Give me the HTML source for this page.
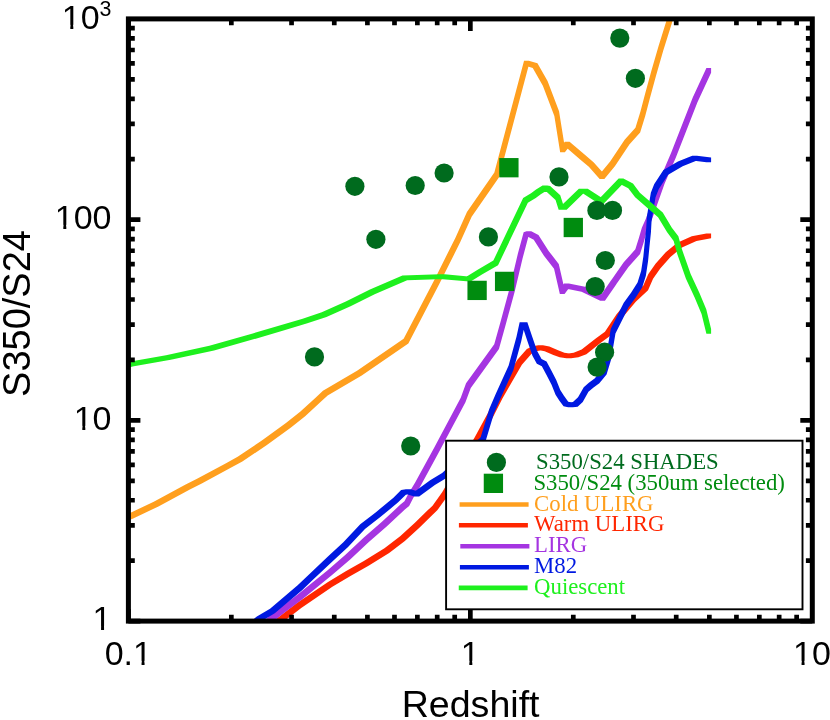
<!DOCTYPE html>
<html><head><meta charset="utf-8"><title>S350/S24 vs Redshift</title>
<style>
html,body{margin:0;padding:0;background:#fff;}
body{width:830px;height:720px;overflow:hidden;}
svg{display:block;will-change:transform;}
.t{font-family:"Liberation Sans",sans-serif;fill:#000;}
.l{font-family:"Liberation Serif",serif;font-size:22.75px;}
</style></head><body>
<svg width="830" height="720" viewBox="0 0 830 720">
<rect width="830" height="720" fill="#fff"/>
<defs><clipPath id="c"><rect x="128.4" y="18.9" width="683.9" height="602.2"/></clipPath></defs>
<g clip-path="url(#c)">
<path d="M126.05,514.85L128.45,513.75L133.15,513.75L133.15,518.45L130.75,519.55L126.05,519.55ZM128.45,513.75L153.75,501.75L158.45,501.75L158.45,506.45L133.15,518.45L128.45,518.45ZM153.75,501.75L185.15,484.85L189.85,484.85L189.85,489.55L158.45,506.45L153.75,506.45ZM185.15,484.85L197.05,478.75L201.75,478.75L201.75,483.45L189.85,489.55L185.15,489.55ZM197.05,478.75L226.05,463.15L230.75,463.15L230.75,467.85L201.75,483.45L197.05,483.45ZM226.05,463.15L237.65,456.85L242.35,456.85L242.35,461.55L230.75,467.85L226.05,467.85ZM237.65,456.85L261.85,440.55L266.55,440.55L266.55,445.25L242.35,461.55L237.65,461.55ZM261.85,440.55L285.95,423.05L290.65,423.05L290.65,427.75L266.55,445.25L261.85,445.25ZM285.95,423.05L300.45,411.55L305.15,411.55L305.15,416.25L290.65,427.75L285.95,427.75ZM300.45,411.55L315.55,397.65L320.25,397.65L320.25,402.35L305.15,416.25L300.45,416.25ZM315.55,397.65L322.95,390.85L327.65,390.85L327.65,395.55L320.25,402.35L315.55,402.35ZM322.95,390.85L357.05,370.75L361.75,370.75L361.75,375.45L327.65,395.55L322.95,395.55ZM357.05,370.75L403.65,338.85L408.35,338.85L408.35,343.55L361.75,375.45L357.05,375.45ZM403.65,338.85L434.95,278.65L439.65,278.65L439.65,283.35L408.35,343.55L403.65,343.55ZM434.95,278.65L455.45,237.65L460.15,237.65L460.15,242.35L439.65,283.35L434.95,283.35ZM455.45,237.65L466.95,211.95L471.65,211.95L471.65,216.65L460.15,242.35L455.45,242.35ZM466.95,211.95L494.35,172.45L499.05,172.45L499.05,177.15L471.65,216.65L466.95,216.65ZM494.35,172.45L524.05,60.65L528.75,60.65L528.75,65.35L499.05,177.15L494.35,177.15ZM524.05,60.65L528.75,60.65L537.45,63.25L537.45,67.95L532.75,67.95L524.05,65.35ZM532.75,63.25L537.45,63.25L547.55,80.95L547.55,85.65L542.85,85.65L532.75,67.95ZM542.85,80.95L547.55,80.95L559.05,111.25L559.05,115.95L554.35,115.95L542.85,85.65ZM554.35,111.25L559.05,111.25L564.85,147.45L564.85,152.15L560.15,152.15L554.35,115.95ZM560.15,147.45L564.85,141.65L569.55,141.65L569.55,146.35L564.85,152.15L560.15,152.15ZM564.85,141.65L569.55,141.65L584.85,154.85L584.85,159.55L580.15,159.55L564.85,146.35ZM580.15,154.85L584.85,154.85L593.55,162.15L593.55,166.85L588.85,166.85L580.15,159.55ZM588.85,162.15L593.55,162.15L604.35,174.35L604.35,179.05L599.65,179.05L588.85,166.85ZM599.65,174.35L610.15,161.55L614.85,161.55L614.85,166.25L604.35,179.05L599.65,179.05ZM610.15,161.55L624.65,139.85L629.35,139.85L629.35,144.55L614.85,166.25L610.15,166.25ZM624.65,139.85L635.45,127.75L640.15,127.75L640.15,132.45L629.35,144.55L624.65,144.55ZM635.45,127.75L640.45,111.45L645.15,111.45L645.15,116.15L640.15,132.45L635.45,132.45ZM640.45,111.45L645.05,94.05L649.75,94.05L649.75,98.75L645.15,116.15L640.45,116.15ZM645.05,94.05L651.25,71.25L655.95,71.25L655.95,75.95L649.75,98.75L645.05,98.75ZM651.25,71.25L658.65,45.65L663.35,45.65L663.35,50.35L655.95,75.95L651.25,75.95ZM658.65,45.65L667.15,18.45L671.85,18.45L671.85,23.15L663.35,50.35L658.65,50.35ZM667.15,18.45L669.15,11.65L673.85,11.65L673.85,16.35L671.85,23.15L667.15,23.15Z" fill="#ff9f1e"/>
<path d="M263.65,627.65L279.35,616.55L284.05,616.55L284.05,621.25L268.35,632.35L263.65,632.35ZM279.35,616.55L296.55,603.35L301.25,603.35L301.25,608.05L284.05,621.25L279.35,621.25ZM296.55,603.35L327.65,582.15L332.35,582.15L332.35,586.85L301.25,608.05L296.55,608.05ZM327.65,582.15L345.75,571.35L350.45,571.35L350.45,576.05L332.35,586.85L327.65,586.85ZM345.75,571.35L363.85,561.05L368.55,561.05L368.55,565.75L350.45,576.05L345.75,576.05ZM363.85,561.05L384.45,548.35L389.15,548.35L389.15,553.05L368.55,565.75L363.85,565.75ZM384.45,548.35L400.15,536.25L404.85,536.25L404.85,540.95L389.15,553.05L384.45,553.05ZM400.15,536.25L414.65,523.05L419.35,523.05L419.35,527.75L404.85,540.95L400.15,540.95ZM414.65,523.05L427.65,510.35L432.35,510.35L432.35,515.05L419.35,527.75L414.65,527.75ZM427.65,510.35L432.55,505.65L437.25,505.65L437.25,510.35L432.35,515.05L427.65,515.05ZM432.55,505.65L442.15,492.35L446.85,492.35L446.85,497.05L437.25,510.35L432.55,510.35ZM442.15,492.35L474.75,437.25L479.45,437.25L479.45,441.95L446.85,497.05L442.15,497.05ZM474.75,437.25L488.85,411.35L493.55,411.35L493.55,416.05L479.45,441.95L474.75,441.95ZM488.85,411.35L497.85,393.65L502.55,393.65L502.55,398.35L493.55,416.05L488.85,416.05ZM497.85,393.65L517.15,359.95L521.85,359.95L521.85,364.65L502.55,398.35L497.85,398.35ZM517.15,359.95L526.85,349.05L531.55,349.05L531.55,353.75L521.85,364.65L517.15,364.65ZM526.85,349.05L532.65,346.25L537.35,346.25L537.35,350.95L531.55,353.75L526.85,353.75ZM532.65,346.25L538.25,345.35L542.95,345.35L542.95,350.05L537.35,350.95L532.65,350.95ZM538.25,345.35L542.95,345.35L549.35,346.45L549.35,351.15L544.65,351.15L538.25,350.05ZM544.65,346.45L549.35,346.45L558.05,350.35L558.05,355.05L553.35,355.05L544.65,351.15ZM553.35,350.35L558.05,350.35L564.35,352.65L564.35,357.35L559.65,357.35L553.35,355.05ZM559.65,352.65L564.35,352.65L571.15,353.65L571.15,358.35L566.45,358.35L559.65,357.35ZM566.45,353.65L573.65,352.65L578.35,352.65L578.35,357.35L571.15,358.35L566.45,358.35ZM573.65,352.65L581.65,349.55L586.35,349.55L586.35,354.25L578.35,357.35L573.65,357.35ZM581.65,349.55L596.05,338.15L600.75,338.15L600.75,342.85L586.35,354.25L581.65,354.25ZM596.05,338.15L604.95,331.65L609.65,331.65L609.65,336.35L600.75,342.85L596.05,342.85ZM604.95,331.65L616.55,314.35L621.25,314.35L621.25,319.05L609.65,336.35L604.95,336.35ZM616.55,314.35L631.05,297.05L635.75,297.05L635.75,301.75L621.25,319.05L616.55,319.05ZM631.05,297.05L643.35,285.45L648.05,285.45L648.05,290.15L635.75,301.75L631.05,301.75ZM643.35,285.45L648.35,273.95L653.05,273.95L653.05,278.65L648.05,290.15L643.35,290.15ZM648.35,273.95L655.55,263.75L660.25,263.75L660.25,268.45L653.05,278.65L648.35,278.65ZM655.55,263.75L665.75,252.25L670.45,252.25L670.45,256.95L660.25,268.45L655.55,268.45ZM665.75,252.25L677.25,242.85L681.95,242.85L681.95,247.55L670.45,256.95L665.75,256.95ZM677.25,242.85L691.75,236.35L696.45,236.35L696.45,241.05L681.95,247.55L677.25,247.55ZM691.75,236.35L706.4,233.45L711.1,233.45L711.1,238.15L696.45,241.05L691.75,241.05Z" fill="#ff2600"/>
<path d="M255.65,627.65L268.75,616.55L273.45,616.55L273.45,621.25L260.35,632.35L255.65,632.35ZM268.75,616.55L280.65,607.25L285.35,607.25L285.35,611.95L273.45,621.25L268.75,621.25ZM280.65,607.25L297.65,594.45L302.35,594.45L302.35,599.15L285.35,611.95L280.65,611.95ZM297.65,594.45L327.65,570.15L332.35,570.15L332.35,574.85L302.35,599.15L297.65,599.15ZM327.65,570.15L345.75,554.45L350.45,554.45L350.45,559.15L332.35,574.85L327.65,574.85ZM345.75,554.45L363.85,537.55L368.55,537.55L368.55,542.25L350.45,559.15L345.75,559.15ZM363.85,537.55L381.95,521.85L386.65,521.85L386.65,526.55L368.55,542.25L363.85,542.25ZM381.95,521.85L400.15,504.85L404.85,504.85L404.85,509.55L386.65,526.55L381.95,526.55ZM400.15,504.85L404.45,501.25L409.15,501.25L409.15,505.95L404.85,509.55L400.15,509.55ZM404.45,501.25L408.65,493.15L413.35,493.15L413.35,497.85L409.15,505.95L404.45,505.95ZM408.65,493.15L415.15,482.45L419.85,482.45L419.85,487.15L413.35,497.85L408.65,497.85ZM415.15,482.45L434.15,447.65L438.85,447.65L438.85,452.35L419.85,487.15L415.15,487.15ZM434.15,447.65L460.75,397.65L465.45,397.65L465.45,402.35L438.85,452.35L434.15,452.35ZM460.75,397.65L466.05,383.25L470.75,383.25L470.75,387.95L465.45,402.35L460.75,402.35ZM466.05,383.25L494.25,344.25L498.95,344.25L498.95,348.95L470.75,387.95L466.05,387.95ZM494.25,344.25L500.55,321.65L505.25,321.65L505.25,326.35L498.95,348.95L494.25,348.95ZM500.55,321.65L509.95,287.05L514.65,287.05L514.65,291.75L505.25,326.35L500.55,326.35ZM509.95,287.05L517.85,253.75L522.55,253.75L522.55,258.45L514.65,291.75L509.95,291.75ZM517.85,253.75L523.65,232.15L528.35,232.15L528.35,236.85L522.55,258.45L517.85,258.45ZM523.65,232.15L526.55,231.35L531.25,231.35L531.25,236.05L528.35,236.85L523.65,236.85ZM526.55,231.35L531.25,231.35L538.45,234.95L538.45,239.65L533.75,239.65L526.55,236.05ZM533.75,234.95L538.45,234.95L548.65,250.95L548.65,255.65L543.95,255.65L533.75,239.65ZM543.95,250.95L548.65,250.95L558.75,263.95L558.75,268.65L554.05,268.65L543.95,255.65ZM554.05,263.95L558.75,263.95L564.55,289.25L564.55,293.95L559.85,293.95L554.05,268.65ZM559.85,289.25L564.15,283.45L568.85,283.45L568.85,288.15L564.55,293.95L559.85,293.95ZM564.15,283.45L568.85,283.45L586.25,287.05L586.25,291.75L581.55,291.75L564.15,288.15ZM581.55,287.05L586.25,287.05L604.95,295.95L604.95,300.65L600.25,300.65L581.55,291.75ZM600.25,295.95L610.45,281.25L615.15,281.25L615.15,285.95L604.95,300.65L600.25,300.65ZM610.45,281.25L612.25,278.65L616.95,278.65L616.95,283.35L615.15,285.95L610.45,285.95ZM612.25,278.65L623.75,262.35L628.45,262.35L628.45,267.05L616.95,283.35L612.25,283.35ZM623.75,262.35L635.35,249.35L640.05,249.35L640.05,254.05L628.45,267.05L623.75,267.05ZM635.35,249.35L638.95,237.75L643.65,237.75L643.65,242.45L640.05,254.05L635.35,254.05ZM638.95,237.75L641.85,227.65L646.55,227.65L646.55,232.35L643.65,242.45L638.95,242.45ZM641.85,227.65L646.05,218.15L650.75,218.15L650.75,222.85L646.55,232.35L641.85,232.35ZM646.05,218.15L659.85,179.15L664.55,179.15L664.55,183.85L650.75,222.85L646.05,222.85ZM659.85,179.15L671.05,152.95L675.75,152.95L675.75,157.65L664.55,183.85L659.85,183.85ZM671.05,152.95L692.75,97.55L697.45,97.55L697.45,102.25L675.75,157.65L671.05,157.65ZM692.75,97.55L706.4,68.1L711.1,68.1L711.1,72.8L697.45,102.25L692.75,102.25Z" fill="#a535e1"/>
<path d="M242.65,627.65L256.85,616.55L261.55,616.55L261.55,621.25L247.35,632.35L242.65,632.35ZM256.85,616.55L270.05,608.65L274.75,608.65L274.75,613.35L261.55,621.25L256.85,621.25ZM270.05,608.65L297.65,585.35L302.35,585.35L302.35,590.05L274.75,613.35L270.05,613.35ZM297.65,585.35L307.15,576.15L311.85,576.15L311.85,580.85L302.35,590.05L297.65,590.05ZM307.15,576.15L327.65,556.85L332.35,556.85L332.35,561.55L311.85,580.85L307.15,580.85ZM327.65,556.85L343.35,542.35L348.05,542.35L348.05,547.05L332.35,561.55L327.65,561.55ZM343.35,542.35L360.25,524.25L364.95,524.25L364.95,528.95L348.05,547.05L343.35,547.05ZM360.25,524.25L375.95,512.15L380.65,512.15L380.65,516.85L364.95,528.95L360.25,528.95ZM375.95,512.15L393.45,497.65L398.15,497.65L398.15,502.35L380.65,516.85L375.95,516.85ZM393.45,497.65L401.15,489.95L405.85,489.95L405.85,494.65L398.15,502.35L393.45,502.35ZM401.15,489.95L405.95,489.35L410.65,489.35L410.65,494.05L405.85,494.65L401.15,494.65ZM405.95,489.35L410.65,489.35L419.15,491.75L419.15,496.45L414.45,496.45L405.95,494.05ZM414.45,491.75L430.15,480.25L434.85,480.25L434.85,484.95L419.15,496.45L414.45,496.45ZM430.15,480.25L442.15,473.05L446.85,473.05L446.85,477.75L434.85,484.95L430.15,484.95ZM442.15,473.05L480.65,437.25L485.35,437.25L485.35,441.95L446.85,477.75L442.15,477.75ZM480.65,437.25L489.15,409.15L493.85,409.15L493.85,413.85L485.35,441.95L480.65,441.95ZM489.15,409.15L495.6,394.35L500.3,394.35L500.3,399.05L493.85,413.85L489.15,413.85ZM495.6,394.35L508.65,365.45L513.35,365.45L513.35,370.15L500.3,399.05L495.6,399.05ZM508.65,365.45L516.55,336.55L521.25,336.55L521.25,341.25L513.35,370.15L508.65,370.15ZM516.55,336.55L519.65,322.15L524.35,322.15L524.35,326.85L521.25,341.25L516.55,341.25ZM519.65,322.15L527.35,322.15L527.35,326.85L519.65,326.85ZM522.65,322.15L527.35,322.15L532.15,336.55L532.15,341.25L527.45,341.25L522.65,326.85ZM527.45,336.55L532.15,336.55L537.15,351.05L537.15,355.75L532.45,355.75L527.45,341.25ZM532.45,351.05L537.15,351.05L541.55,358.95L541.55,363.65L536.85,363.65L532.45,355.75ZM536.85,358.95L541.55,358.95L546.55,361.45L546.55,366.15L541.85,366.15L536.85,363.65ZM541.85,361.45L546.55,361.45L550.95,369.85L550.95,374.55L546.25,374.55L541.85,366.15ZM546.25,369.85L550.95,369.85L556.25,379.95L556.25,384.65L551.55,384.65L546.25,374.55ZM551.55,379.95L556.25,379.95L560.25,390.05L560.25,394.75L555.55,394.75L551.55,384.65ZM555.55,390.05L560.25,390.05L563.95,395.85L563.95,400.55L559.25,400.55L555.55,394.75ZM559.25,395.85L563.95,395.85L568.25,401.65L568.25,406.35L563.55,406.35L559.25,400.55ZM563.55,401.65L568.25,401.65L572.85,402.65L572.85,407.35L568.15,407.35L563.55,406.35ZM568.15,402.65L572.95,401.95L577.65,401.95L577.65,406.65L572.85,407.35L568.15,407.35ZM572.95,401.95L578.05,397.25L582.75,397.25L582.75,401.95L577.65,406.65L572.95,406.65ZM578.05,397.25L583.75,387.15L588.45,387.15L588.45,391.85L582.75,401.95L578.05,401.95ZM583.75,387.15L588.85,382.85L593.55,382.85L593.55,387.55L588.45,391.85L583.75,391.85ZM588.85,382.85L594.65,378.45L599.35,378.45L599.35,383.15L593.55,387.55L588.85,387.55ZM594.65,378.45L601.85,369.85L606.55,369.85L606.55,374.55L599.35,383.15L594.65,383.15ZM601.85,369.85L606.35,355.15L611.05,355.15L611.05,359.85L606.55,374.55L601.85,374.55ZM606.35,355.15L610.75,328.85L615.45,328.85L615.45,333.55L611.05,359.85L606.35,359.85ZM610.75,328.85L623.75,302.85L628.45,302.85L628.45,307.55L615.45,333.55L610.75,333.55ZM623.75,302.85L631.05,292.75L635.75,292.75L635.75,297.45L628.45,307.55L623.75,307.55ZM631.05,292.75L637.55,282.55L642.25,282.55L642.25,287.25L635.75,297.45L631.05,297.45ZM637.55,282.55L641.15,271.05L645.85,271.05L645.85,275.75L642.25,287.25L637.55,287.25ZM641.15,271.05L643.35,256.55L648.05,256.55L648.05,261.25L645.85,275.75L641.15,275.75ZM643.35,256.55L644.75,242.15L649.45,242.15L649.45,246.85L648.05,261.25L643.35,261.25ZM644.75,242.15L646.25,227.65L650.95,227.65L650.95,232.35L649.45,246.85L644.75,246.85ZM646.25,227.65L646.85,216.65L651.55,216.65L651.55,221.35L650.95,232.35L646.25,232.35ZM646.85,216.65L650.85,192.65L655.55,192.65L655.55,197.35L651.55,221.35L646.85,221.35ZM650.85,192.65L654.15,184.25L658.85,184.25L658.85,188.95L655.55,197.35L650.85,197.35ZM654.15,184.25L663.45,170.05L668.15,170.05L668.15,174.75L658.85,188.95L654.15,188.95ZM663.45,170.05L677.95,161.55L682.65,161.55L682.65,166.25L668.15,174.75L663.45,174.75ZM677.95,161.55L692.25,155.75L696.95,155.75L696.95,160.45L682.65,166.25L677.95,166.25ZM692.25,155.75L696.95,155.75L711.1,157.55L711.1,162.25L706.4,162.25L692.25,160.45Z" fill="#0019e1"/>
<path d="M126.05,362.25L129.15,361.65L133.85,361.65L133.85,366.35L130.75,366.95L126.05,366.95ZM129.15,361.65L166.05,355.15L170.75,355.15L170.75,359.85L133.85,366.35L129.15,366.35ZM166.05,355.15L209.35,345.75L214.05,345.75L214.05,350.45L170.75,359.85L166.05,359.85ZM209.35,345.75L252.75,333.45L257.45,333.45L257.45,338.15L214.05,350.45L209.35,350.45ZM252.75,333.45L278.75,325.85L283.45,325.85L283.45,330.55L257.45,338.15L252.75,338.15ZM278.75,325.85L302.65,318.65L307.35,318.65L307.35,323.35L283.45,330.55L278.75,330.55ZM302.65,318.65L321.75,312.35L326.45,312.35L326.45,317.05L307.35,323.35L302.65,323.35ZM321.75,312.35L345.85,301.55L350.55,301.55L350.55,306.25L326.45,317.05L321.75,317.05ZM345.85,301.55L369.95,289.45L374.65,289.45L374.65,294.15L350.55,306.25L345.85,306.25ZM369.95,289.45L402.45,275.45L407.15,275.45L407.15,280.15L374.65,294.15L369.95,294.15ZM402.45,275.45L439.85,274.25L444.55,274.25L444.55,278.95L407.15,280.15L402.45,280.15ZM439.85,274.25L444.55,274.25L471.05,276.65L471.05,281.35L466.35,281.35L439.85,278.95ZM466.35,276.65L477.65,269.65L482.35,269.65L482.35,274.35L471.05,281.35L466.35,281.35ZM477.65,269.65L493.35,260.55L498.05,260.55L498.05,265.25L482.35,274.35L477.65,274.35ZM493.35,260.55L523.15,197.95L527.85,197.95L527.85,202.65L498.05,265.25L493.35,265.25ZM523.15,197.95L531.05,193.25L535.75,193.25L535.75,197.95L527.85,202.65L523.15,202.65ZM531.05,193.25L536.05,189.55L540.75,189.55L540.75,194.25L535.75,197.95L531.05,197.95ZM536.05,189.55L542.55,185.55L547.25,185.55L547.25,190.25L540.75,194.25L536.05,194.25ZM542.55,185.55L547.25,185.55L550.15,185.95L550.15,190.65L545.45,190.65L542.55,190.25ZM545.45,185.95L550.15,185.95L560.25,195.35L560.25,200.05L555.55,200.05L545.45,190.65ZM555.55,195.35L560.25,195.35L563.35,204.95L563.35,209.65L558.65,209.65L555.55,200.05ZM558.65,204.95L566.65,204.95L566.65,209.65L558.65,209.65ZM561.95,204.95L578.85,188.65L583.55,188.65L583.55,193.35L566.65,209.65L561.95,209.65ZM578.85,188.65L583.55,188.65L587.75,188.85L587.75,193.55L583.05,193.55L578.85,193.35ZM583.05,188.85L587.75,188.85L603.65,198.95L603.65,203.65L598.95,203.65L583.05,193.55ZM598.95,198.95L618.65,178.45L623.35,178.45L623.35,183.15L603.65,203.65L598.95,203.65ZM618.65,178.45L623.35,178.45L632.95,183.45L632.95,188.15L628.25,188.15L618.65,183.15ZM628.25,183.45L632.95,183.45L639.85,192.65L639.85,197.35L635.15,197.35L628.25,188.15ZM635.15,192.65L639.85,192.65L662.75,212.45L662.75,217.15L658.05,217.15L635.15,197.35ZM658.05,212.45L662.75,212.45L671.85,227.65L671.85,232.35L667.15,232.35L658.05,217.15ZM667.15,227.65L671.85,227.65L678.35,236.35L678.35,241.05L673.65,241.05L667.15,232.35ZM673.65,236.35L678.35,236.35L681.95,249.35L681.95,254.05L677.25,254.05L673.65,241.05ZM677.25,249.35L681.95,249.35L690.65,273.95L690.65,278.65L685.95,278.65L677.25,254.05ZM685.95,273.95L690.65,273.95L699.35,292.75L699.35,297.45L694.65,297.45L685.95,278.65ZM694.65,292.75L699.35,292.75L706.25,309.35L706.25,314.05L701.55,314.05L694.65,297.45ZM701.55,309.35L706.25,309.35L711.1,329.05L711.1,333.75L706.4,333.75L701.55,314.05Z" fill="#1ef01e"/>
<circle cx="619.8" cy="38.1" r="9.6" fill="#006b1e"/>
<circle cx="635.4" cy="78.3" r="9.6" fill="#006b1e"/>
<circle cx="354.9" cy="186.3" r="9.6" fill="#006b1e"/>
<circle cx="415.2" cy="185.5" r="9.6" fill="#006b1e"/>
<circle cx="444.1" cy="173" r="9.6" fill="#006b1e"/>
<circle cx="375.9" cy="239.3" r="9.6" fill="#006b1e"/>
<circle cx="488.4" cy="236.9" r="9.6" fill="#006b1e"/>
<circle cx="559" cy="176.9" r="9.6" fill="#006b1e"/>
<circle cx="596.9" cy="210.4" r="9.6" fill="#006b1e"/>
<circle cx="612.5" cy="210.4" r="9.6" fill="#006b1e"/>
<circle cx="605.3" cy="260.5" r="9.6" fill="#006b1e"/>
<circle cx="595.2" cy="286.5" r="9.6" fill="#006b1e"/>
<circle cx="314.5" cy="356.9" r="9.6" fill="#006b1e"/>
<circle cx="604.6" cy="352.2" r="9.6" fill="#006b1e"/>
<circle cx="597.1" cy="367.1" r="9.6" fill="#006b1e"/>
<circle cx="410.7" cy="446" r="9.6" fill="#006b1e"/>
<rect x="499.25" y="158.05" width="19.3" height="19.3" fill="#008c0f"/>
<rect x="563.65" y="217.85" width="19.3" height="19.3" fill="#008c0f"/>
<rect x="494.95" y="271.75" width="19.3" height="19.3" fill="#008c0f"/>
<rect x="467.45" y="280.75" width="19.3" height="19.3" fill="#008c0f"/>
</g>
<rect x="446.1" y="440.7" width="356.4" height="168.6" fill="#fff" stroke="#000" stroke-width="1.9"/>
<circle cx="496.4" cy="462.4" r="9.6" fill="#006b1e"/>
<rect x="483.75" y="473.7" width="19.3" height="19.3" fill="#008c0f"/>
<line x1="459.6" y1="504.5" x2="528.6" y2="504.5" stroke="#ff9f1e" stroke-width="4.6"/>
<line x1="458.9" y1="525.2" x2="527.9" y2="525.2" stroke="#ff2600" stroke-width="4.6"/>
<line x1="460.3" y1="546.2" x2="529.4" y2="546.2" stroke="#a535e1" stroke-width="4.6"/>
<line x1="459.9" y1="567.2" x2="528.9" y2="567.2" stroke="#0019e1" stroke-width="4.6"/>
<line x1="458.75" y1="587.9" x2="527.6" y2="587.9" stroke="#1ef01e" stroke-width="4.6"/>
<text class="l" x="536.1" y="469.0" fill="#006b1e">S350/S24 SHADES</text>
<text class="l" x="533.4" y="489.8" fill="#008c0f">S350/S24 (350um selected)</text>
<text class="l" x="534.1" y="510.6" fill="#ff9f1e">Cold ULIRG</text>
<text class="l" x="534.1" y="531.4" fill="#ff2600">Warm ULIRG</text>
<text class="l" x="534.1" y="552.3" fill="#a535e1">LIRG</text>
<text class="l" x="534.1" y="573.1" fill="#0019e1">M82</text>
<text class="l" x="534.1" y="594.0" fill="#1ef01e">Quiescent</text>
<path d="M128.40,621.1V609.1M128.40,18.9V30.9M231.34,621.1V614.7M231.34,18.9V25.299999999999997M291.55,621.1V614.7M291.55,18.9V25.299999999999997M334.27,621.1V614.7M334.27,18.9V25.299999999999997M367.41,621.1V614.7M367.41,18.9V25.299999999999997M394.49,621.1V614.7M394.49,18.9V25.299999999999997M417.38,621.1V614.7M417.38,18.9V25.299999999999997M437.21,621.1V614.7M437.21,18.9V25.299999999999997M454.70,621.1V614.7M454.70,18.9V25.299999999999997M470.35,621.1V609.1M470.35,18.9V30.9M573.29,621.1V614.7M573.29,18.9V25.299999999999997M633.50,621.1V614.7M633.50,18.9V25.299999999999997M676.22,621.1V614.7M676.22,18.9V25.299999999999997M709.36,621.1V614.7M709.36,18.9V25.299999999999997M736.44,621.1V614.7M736.44,18.9V25.299999999999997M759.33,621.1V614.7M759.33,18.9V25.299999999999997M779.16,621.1V614.7M779.16,18.9V25.299999999999997M796.65,621.1V614.7M796.65,18.9V25.299999999999997M128.4,621.10H140.4M812.3,621.10H800.3M128.4,560.67H134.8M812.3,560.67H805.9M128.4,525.33H134.8M812.3,525.33H805.9M128.4,500.25H134.8M812.3,500.25H805.9M128.4,480.79H134.8M812.3,480.79H805.9M128.4,464.90H134.8M812.3,464.90H805.9M128.4,451.46H134.8M812.3,451.46H805.9M128.4,439.82H134.8M812.3,439.82H805.9M128.4,429.55H134.8M812.3,429.55H805.9M128.4,420.37H140.4M812.3,420.37H800.3M128.4,359.94H134.8M812.3,359.94H805.9M128.4,324.59H134.8M812.3,324.59H805.9M128.4,299.51H134.8M812.3,299.51H805.9M128.4,280.06H134.8M812.3,280.06H805.9M128.4,264.17H134.8M812.3,264.17H805.9M128.4,250.73H134.8M812.3,250.73H805.9M128.4,239.09H134.8M812.3,239.09H805.9M128.4,228.82H134.8M812.3,228.82H805.9M128.4,219.63H140.4M812.3,219.63H800.3M128.4,159.21H134.8M812.3,159.21H805.9M128.4,123.86H134.8M812.3,123.86H805.9M128.4,98.78H134.8M812.3,98.78H805.9M128.4,79.33H134.8M812.3,79.33H805.9M128.4,63.43H134.8M812.3,63.43H805.9M128.4,49.99H134.8M812.3,49.99H805.9M128.4,38.35H134.8M812.3,38.35H805.9M128.4,28.09H134.8M812.3,28.09H805.9" stroke="#000" stroke-width="4.7" fill="none"/>
<rect x="128.4" y="18.9" width="683.9" height="602.2" fill="none" stroke="#000" stroke-width="5.0"/>
<text class="t" font-size="34" x="111.5" y="28.9" text-anchor="end">10<tspan font-size="21.4" dy="-13">3</tspan></text>
<text class="t" font-size="34" x="111.5" y="229.2" text-anchor="end">100</text>
<text class="t" font-size="34" x="111.5" y="430" text-anchor="end">10</text>
<text class="t" font-size="34" x="111.5" y="630.4" text-anchor="end">1</text>
<text class="t" font-size="34" x="128.3" y="665.4" text-anchor="middle">0.1</text>
<text class="t" font-size="34" x="470.3" y="665.2" text-anchor="middle">1</text>
<text class="t" font-size="34" x="812" y="665.2" text-anchor="middle">10</text>
<rect x="63.41" y="24.8" width="6.9" height="6" fill="#fff"/>
<rect x="73.31" y="24.8" width="6.9" height="6" fill="#fff"/>
<rect x="56.41" y="224.8" width="6.9" height="6" fill="#fff"/>
<rect x="66.31" y="224.8" width="6.9" height="6" fill="#fff"/>
<rect x="75.41" y="425.8" width="6.9" height="6" fill="#fff"/>
<rect x="85.31" y="425.8" width="6.9" height="6" fill="#fff"/>
<rect x="94.16" y="625.8" width="6.9" height="6" fill="#fff"/>
<rect x="104.06" y="625.8" width="6.9" height="6" fill="#fff"/>
<rect x="134.65" y="660.8" width="6.9" height="6" fill="#fff"/>
<rect x="144.55" y="660.8" width="6.9" height="6" fill="#fff"/>
<rect x="462.41" y="660.8" width="6.9" height="6" fill="#fff"/>
<rect x="472.31" y="660.8" width="6.9" height="6" fill="#fff"/>
<rect x="794.65" y="660.8" width="6.9" height="6" fill="#fff"/>
<rect x="804.55" y="660.8" width="6.9" height="6" fill="#fff"/>
<text class="t" font-size="37.6" x="470.6" y="716.9" text-anchor="middle">Redshift</text>
<text class="t" font-size="38" transform="translate(30.4,313.5) rotate(-90)" text-anchor="middle">S350/S24</text>
</svg></body></html>
